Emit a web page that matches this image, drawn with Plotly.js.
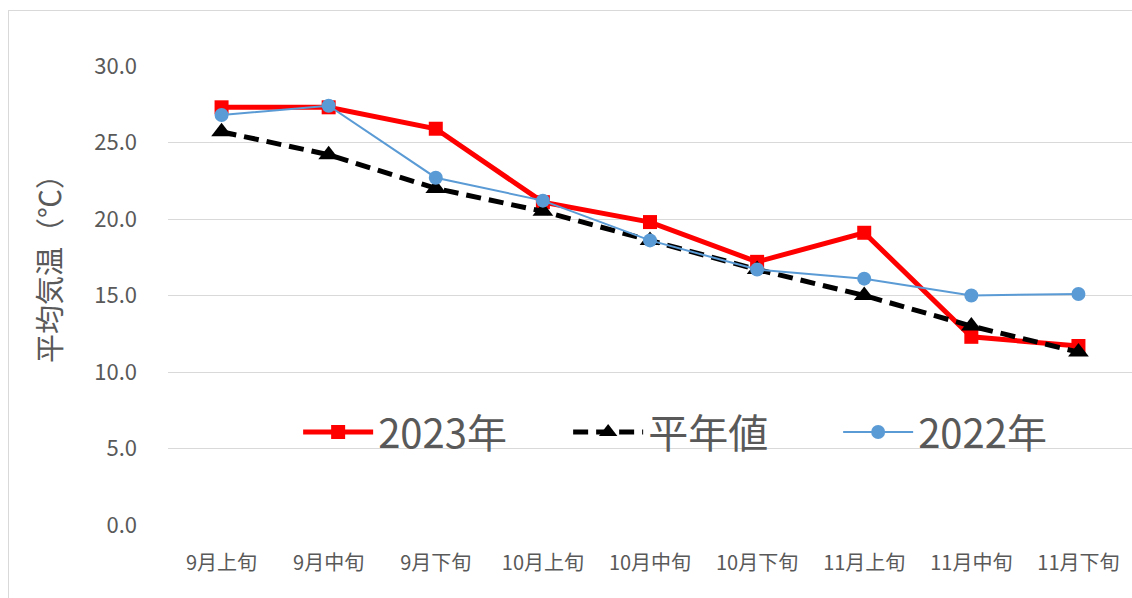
<!DOCTYPE html>
<html>
<head>
<meta charset="utf-8">
<script src="https://cdn.plot.ly/plotly-3.0.1.min.js"></script>
<style>
  html, body { margin: 0; padding: 0; background: #fff; overflow: hidden; }
  #wrap { position: relative; width: 1132px; height: 598px; }
  #chart { position: absolute; left: 0; top: 0; width: 1132px; height: 598px; }
  #frame { position: absolute; left: 8px; top: 10px; width: 1200px; height: 700px; border: 1px solid #d9d9d9; pointer-events: none; }
</style>
</head>
<body>
<div id="wrap">
  <div id="chart"></div>
  <div id="frame"></div>
</div>
<script>
const categories = ["9月上旬", "9月中旬", "9月下旬", "10月上旬", "10月中旬", "10月下旬", "11月上旬", "11月中旬", "11月下旬"];
const temp2023 = [27.3, 27.3, 25.9, 21.1, 19.8, 17.2, 19.1, 12.3, 11.7];
const tempNormal = [25.7, 24.2, 22.0, 20.5, 18.6, 16.7, 15.0, 13.0, 11.3];
const temp2022 = [26.8, 27.4, 22.7, 21.2, 18.6, 16.7, 16.1, 15.0, 15.1];
const yTicks = [0, 5, 10, 15, 20, 25, 30];
const yTickText = ["0.0", "5.0", "10.0", "15.0", "20.0", "25.0", "30.0"];
const yTitle = '平均気温（℃）';

const FONT = '"Noto Sans CJK JP", "Noto Sans", sans-serif';
const GRAY = '#595959';

const traces = [
  {
    x: categories, y: temp2023, name: '2023年', type: 'scatter', mode: 'lines+markers',
    line: { color: '#ff0000', width: 5 },
    marker: { symbol: 'square', size: 14, color: '#ff0000' }
  },
  {
    x: categories, y: tempNormal, name: '平年値', type: 'scatter', mode: 'lines+markers',
    line: { color: '#000000', width: 5, dash: '15px,8px' },
    marker: { symbol: 'triangle-up', size: 18, color: '#000000' }
  },
  {
    x: categories, y: temp2022, name: '2022年', type: 'scatter', mode: 'lines+markers',
    line: { color: '#5b9bd5', width: 2 },
    marker: { symbol: 'circle', size: 14, color: '#5b9bd5' }
  }
];

const layout = {
  width: 1132, height: 598,
  margin: { l: 168, r: 0, t: 66, b: 73, pad: 0 },
  paper_bgcolor: '#ffffff', plot_bgcolor: '#ffffff',
  font: { family: FONT, color: GRAY },
  showlegend: true,
  legend: {
    orientation: 'h', x: 0.135, xanchor: 'left', y: 0.2026, yanchor: 'middle',
    font: { family: FONT, size: 40, color: GRAY },
    bgcolor: 'rgba(0,0,0,0)', itemwidth: 70, traceorder: 'normal',
    entrywidth: 185, entrywidthmode: 'pixels'
  },
  xaxis: {
    type: 'category', range: [-0.5, 8.5],
    showgrid: false, zeroline: false, showline: false, ticks: '',
    tickfont: { family: FONT, size: 20, color: GRAY },
    ticklabelstandoff: 24, fixedrange: true
  },
  yaxis: {
    range: [0, 30], tickvals: yTicks, ticktext: yTickText,
    showgrid: true, gridcolor: '#d9d9d9', gridwidth: 1,
    zeroline: false, showline: false, ticks: '',
    tickfont: { family: FONT, size: 22, color: GRAY },
    ticklabelstandoff: 30,
    fixedrange: true
  },
  annotations: [{
    text: yTitle, xref: 'paper', yref: 'paper',
    x: (48 - 168) / 964, y: (525 - 262) / 459, xanchor: 'center', yanchor: 'middle',
    textangle: -90, showarrow: false,
    font: { family: FONT, size: 29, color: GRAY }
  }]
};

Plotly.newPlot('chart', traces, layout, { staticPlot: true, displayModeBar: false });
</script>
</body>
</html>
